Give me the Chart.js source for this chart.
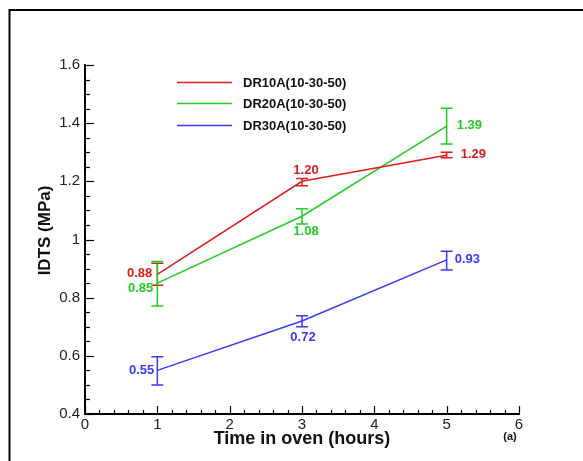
<!DOCTYPE html>
<html>
<head>
<meta charset="utf-8">
<script src="https://cdn.jsdelivr.net/npm/chart.js@4/dist/chart.umd.min.js"></script>
<style>
  html, body { margin: 0; padding: 0; background: #fff; }
  #wrap { position: relative; width: 583px; height: 461px; }
</style>
</head>
<body>
<div id="wrap"><canvas id="c" width="583" height="461"></canvas></div>
<script>
// ---- data ----
const hours = [1, 3, 5];
const seriesNames = ['DR10A(10-30-50)', 'DR20A(10-30-50)', 'DR30A(10-30-50)'];
const dr10 = [0.88, 1.20, 1.29];
const dr10Low = [0.843, 1.185, 1.281];
const dr10High = [0.918, 1.21, 1.30];
const dr20 = [0.85, 1.08, 1.39];
const dr20Low = [0.771, 1.053, 1.328];
const dr20High = [0.924, 1.106, 1.451];
const dr30 = [0.55, 0.72, 0.93];
const dr30Low = [0.50, 0.70, 0.895];
const dr30High = [0.597, 0.738, 0.96];
const xTickLabels = ['0', '1', '2', '3', '4', '5', '6'];
const yTickLabels = ['0.4', '0.6', '0.8', '1', '1.2', '1.4', '1.6'];

// ---- styles ----
const colors = ['rgb(222,28,28)', 'rgb(34,205,34)', 'rgb(58,58,245)'];
// value label placement: [dx, dy, align]
const labelPlacement = [
  [[-5, -1, 'right'], [4, -11, 'center'], [14, -1, 'left']],
  [[-4, 5, 'right'], [4, 15, 'center'], [10, -1, 'left']],
  [[-3, 0, 'right'], [1, 16, 'center'], [8, 0, 'left']]
];

const values = [dr10, dr20, dr30];
const lows = [dr10Low, dr20Low, dr30Low];
const highs = [dr10High, dr20High, dr30High];

const datasets = values.map((v, i) => ({
  label: seriesNames[i],
  data: hours.map((h, j) => ({ x: h, y: v[j] })),
  borderColor: colors[i],
  backgroundColor: colors[i],
  borderWidth: 1.5,
  pointRadius: 0,
  tension: 0,
  fill: false
}));

const decor = {
  id: 'decor',
  beforeDraw(chart) {
    const ctx = chart.ctx;
    ctx.save();
    ctx.fillStyle = '#fff';
    ctx.fillRect(0, 0, chart.width, chart.height);
    // outer frame (top + left)
    ctx.strokeStyle = '#000';
    ctx.lineWidth = 2;
    ctx.beginPath();
    ctx.moveTo(9.5, chart.height);
    ctx.lineTo(9.5, 10);
    ctx.lineTo(chart.width, 10);
    ctx.stroke();
    ctx.restore();
  },
  afterDraw(chart) {
    const ctx = chart.ctx;
    const xs = chart.scales.x, ys = chart.scales.y;
    const ca = chart.chartArea;
    ctx.save();
    // inward ticks
    ctx.strokeStyle = '#000';
    ctx.lineWidth = 1.2;
    for (let k = 0; k <= 30; k++) {
      const v = k * 0.2;
      const px = Math.round(xs.getPixelForValue(v)) + 0.5;
      const len = (k % 5 === 0) ? 8 : 4;
      ctx.beginPath();
      ctx.moveTo(px, ca.bottom);
      ctx.lineTo(px, ca.bottom - len);
      ctx.stroke();
    }
    for (let k = 0; k <= 24; k++) {
      const v = 0.4 + k * 0.05;
      const py = Math.round(ys.getPixelForValue(v)) + 0.5;
      const len = (k % 4 === 0) ? 9 : 5;
      ctx.beginPath();
      ctx.moveTo(ca.left, py);
      ctx.lineTo(ca.left + len, py);
      ctx.stroke();
    }
    // error bars
    ctx.lineWidth = 1.5;
    for (let i = 0; i < 3; i++) {
      ctx.strokeStyle = colors[i];
      for (let j = 0; j < hours.length; j++) {
        const px = xs.getPixelForValue(hours[j]);
        const pl = ys.getPixelForValue(lows[i][j]);
        const ph = ys.getPixelForValue(highs[i][j]);
        ctx.beginPath();
        ctx.moveTo(px, pl); ctx.lineTo(px, ph);
        ctx.moveTo(px - 6, pl); ctx.lineTo(px + 6, pl);
        ctx.moveTo(px - 6, ph); ctx.lineTo(px + 6, ph);
        ctx.stroke();
      }
    }
    // value labels
    ctx.font = 'bold 13px "Liberation Sans", Arial, sans-serif';
    ctx.textBaseline = 'middle';
    for (let i = 0; i < 3; i++) {
      ctx.fillStyle = colors[i];
      for (let j = 0; j < hours.length; j++) {
        const [dx, dy, al] = labelPlacement[i][j];
        ctx.textAlign = al;
        ctx.fillText(values[i][j].toFixed(2),
          xs.getPixelForValue(hours[j]) + dx,
          ys.getPixelForValue(values[i][j]) + dy);
      }
    }
    // legend
    const legY = [82, 103, 125];
    for (let i = 0; i < 3; i++) {
      ctx.strokeStyle = colors[i];
      ctx.lineWidth = 1.5;
      ctx.beginPath();
      ctx.moveTo(177, legY[i] + 0.5);
      ctx.lineTo(232, legY[i] + 0.5);
      ctx.stroke();
      ctx.fillStyle = '#111';
      ctx.textAlign = 'left';
      ctx.font = 'bold 13px "Liberation Sans", Arial, sans-serif';
      ctx.fillText(seriesNames[i], 243, legY[i] + 1);
    }
    // axis titles
    ctx.fillStyle = '#111';
    ctx.font = 'bold 18px "Liberation Sans", Arial, sans-serif';
    ctx.textAlign = 'center';
    ctx.fillText('Time in oven (hours)', (ca.left + ca.right) / 2, 439);
    ctx.save();
    ctx.translate(45, (ca.top + ca.bottom) / 2 - 9);
    ctx.rotate(-Math.PI / 2);
    ctx.font = 'bold 17px "Liberation Sans", Arial, sans-serif';
    ctx.fillText('IDTS (MPa)', 0, 0);
    ctx.restore();
    ctx.font = 'bold 11px "Liberation Sans", Arial, sans-serif';
    ctx.fillText('(a)', 510, 437);
    ctx.restore();
  }
};

new Chart(document.getElementById('c'), {
  type: 'line',
  data: { datasets },
  plugins: [decor],
  options: {
    responsive: false,
    animation: false,
    events: [],
    layout: { padding: { left: 25, right: 64, top: 65, bottom: 0 } },
    plugins: { legend: { display: false }, tooltip: { enabled: false } },
    scales: {
      x: {
        type: 'linear', min: 0, max: 6,
        afterFit(s) { s.height = 47; },
        grid: { display: false, drawTicks: false },
        border: { display: true, color: '#000', width: 2 },
        ticks: {
          stepSize: 1, padding: 2, color: '#222',
          font: { family: '"Liberation Sans", Arial, sans-serif', size: 15 },
          maxRotation: 0,
          callback: (v, i) => xTickLabels[i]
        }
      },
      y: {
        type: 'linear', min: 0.4, max: 1.6,
        afterFit(s) { s.width = 60; },
        grid: { display: false, drawTicks: false },
        border: { display: true, color: '#000', width: 2 },
        ticks: {
          stepSize: 0.2, padding: 5, color: '#222',
          font: { family: '"Liberation Sans", Arial, sans-serif', size: 15 },
          callback: (v, i) => yTickLabels[i]
        }
      }
    }
  }
});
</script>
</body>
</html>
